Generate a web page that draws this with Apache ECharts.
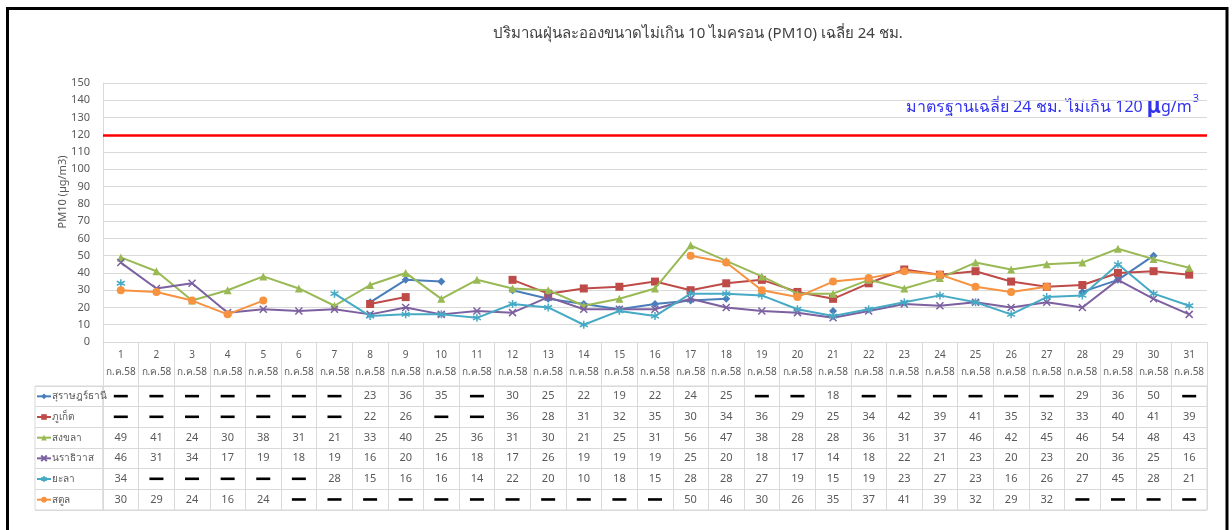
<!DOCTYPE html>
<html>
<head>
<meta charset="utf-8">
<script src="https://cdn.jsdelivr.net/npm/echarts@6/dist/echarts.min.js"></script>
<style>
html,body{margin:0;padding:0;background:#fff;}
#chart{width:1232px;height:530px;}
</style>
</head>
<body>
<div id="chart"></div>
<script>
// ---------- DATA ----------
const days = ['1','2','3','4','5','6','7','8','9','10','11','12','13','14','15','16','17','18','19','20','21','22','23','24','25','26','27','28','29','30','31'];
const monthLabel = 'ก.ค.58';
const stations = ['สุราษฎร์ธานี','ภูเก็ต','สงขลา','นราธิวาส','ยะลา','สตูล'];
const surat = [null,null,null,null,null,null,null,23,36,35,null,30,25,22,19,22,24,25,null,null,18,null,null,null,null,null,null,29,36,50,null];
const phuket = [null,null,null,null,null,null,null,22,26,null,null,36,28,31,32,35,30,34,36,29,25,34,42,39,41,35,32,33,40,41,39];
const songkhla = [49,41,24,30,38,31,21,33,40,25,36,31,30,21,25,31,56,47,38,28,28,36,31,37,46,42,45,46,54,48,43];
const narathiwat = [46,31,34,17,19,18,19,16,20,16,18,17,26,19,19,19,25,20,18,17,14,18,22,21,23,20,23,20,36,25,16];
const yala = [34,null,null,null,null,null,28,15,16,16,14,22,20,10,18,15,28,28,27,19,15,19,23,27,23,16,26,27,45,28,21];
const satun = [30,29,24,16,24,null,null,null,null,null,null,null,null,null,null,null,50,46,30,26,35,37,41,39,32,29,32,null,null,null,null];
const standardValue = 120;
const yTicks = {min: 0, max: 150, interval: 10};

const titleText = 'ปริมาณฝุ่นละอองขนาดไม่เกิน 10 ไมครอน (PM10) เฉลี่ย 24 ชม.';
const yName = 'PM10 (µg/m3)';

// ---------- STYLE ----------
const colors = ['#4A7EBB','#BE4B48','#98B954','#7D60A0','#46AAC5','#F69240'];
const symbols = ['diamond','rect','triangle','path://M0,0L10,10M10,0L0,10','path://M5,0L5,10M0,2.5L10,7.5M0,7.5L10,2.5','circle'];
const symbolSizes = [8,8,8,7,8,8];
const strokeSymbol = [false,false,false,true,true,false];
const rows = [surat, phuket, songkhla, narathiwat, yala, satun];
const FONT = '"Noto Sans", "DejaVu Sans", sans-serif';
const GRID_LINE = '#d9d9d9';
const TXT = '#595959';

const PLOT = {left: 103, right: 25, top: 83, bottom: 188};
const TABLE = {top: 386, height: 124};
const rowH = TABLE.height / rows.length;

const chart = echarts.init(document.getElementById('chart'), null, {renderer: 'canvas'});

const lineSeries = stations.map((name, k) => ({
  name: name,
  type: 'line',
  xAxisIndex: 0, yAxisIndex: 0,
  data: rows[k],
  symbol: symbols[k],
  symbolSize: symbolSizes[k],
  showSymbol: true,
  showAllSymbol: true,
  connectNulls: false,
  lineStyle: {width: 2, color: colors[k]},
  itemStyle: strokeSymbol[k] ? {color: colors[k], borderColor: colors[k], borderWidth: 1.5} : {color: colors[k]},
  emphasis: {disabled: true},
  z: 3 + k,
  markLine: k === 0 ? {
    silent: true,
    symbol: ['none','none'],
    label: {show: false},
    lineStyle: {color: '#FF0000', width: 2.5, type: 'solid'},
    data: [{yAxis: standardValue}]
  } : undefined
}));

const tableData = [];
rows.forEach((arr, r) => arr.forEach((v, i) => tableData.push([i, r, v == null ? -1 : v])));

const tableSeries = {
  name: '__table',
  type: 'custom',
  xAxisIndex: 1, yAxisIndex: 1,
  data: tableData,
  silent: true,
  renderItem: function (params, api) {
    const i = api.value(0), r = api.value(1), v = api.value(2);
    const p = api.coord([i, r]);
    if (v < 0) {
      return {type: 'rect', shape: {x: p[0] - 7, y: p[1] - 1.5, width: 14, height: 2.6}, style: {fill: '#000'}};
    }
    return {type: 'text', x: p[0], y: p[1], style: {text: String(v), align: 'center', verticalAlign: 'middle', fontSize: 11, fontFamily: FONT, fill: TXT}};
  }
};

const legends = stations.map((name, k) => ({
  data: [name],
  left: 36,
  top: TABLE.top + rowH * k + rowH / 2 - 7,
  padding: 0,
  itemWidth: 14,
  itemHeight: 7,
  itemGap: 2,
  selectedMode: false,
  textStyle: {fontSize: 10, color: TXT, fontFamily: FONT, lineHeight: 14, padding: [0,0,0,-4]}
}));

const option = {
  animation: false,
  backgroundColor: '#fff',
  textStyle: {fontFamily: FONT},
  title: {
    text: titleText, left: 698, top: 26, textAlign: 'center', padding: 0,
    textStyle: {fontSize: 15, fontWeight: 'normal', color: '#404040', fontFamily: FONT}
  },
  legend: legends,
  grid: [
    {left: PLOT.left, right: PLOT.right, top: PLOT.top, bottom: PLOT.bottom, containLabel: false},
    {left: PLOT.left, right: PLOT.right, top: TABLE.top, height: TABLE.height, show: true, borderColor: GRID_LINE, borderWidth: 1, backgroundColor: 'transparent'},
    {left: 35, width: 68, top: TABLE.top, height: TABLE.height, show: true, borderColor: GRID_LINE, borderWidth: 1, backgroundColor: 'transparent'}
  ],
  xAxis: [
    {
      type: 'category', gridIndex: 0, data: days, boundaryGap: true,
      axisLine: {show: true, lineStyle: {color: GRID_LINE}},
      axisTick: {show: true, interval: 0, length: 44, lineStyle: {color: GRID_LINE}},
      axisLabel: {interval: 0, fontSize: 10, color: TXT, lineHeight: 17, margin: 5, fontFamily: FONT,
        formatter: v => v + '\n' + monthLabel}
    },
    {
      type: 'category', gridIndex: 1, data: days, boundaryGap: true,
      axisLine: {show: false}, axisTick: {show: false}, axisLabel: {show: false},
      splitLine: {show: true, interval: 0, lineStyle: {color: GRID_LINE}}
    },
    {type: 'value', gridIndex: 2, show: false}
  ],
  yAxis: [
    {
      type: 'value', gridIndex: 0, min: yTicks.min, max: yTicks.max, interval: yTicks.interval,
      axisLine: {show: true, lineStyle: {color: GRID_LINE}},
      axisTick: {show: false},
      axisLabel: {fontSize: 11, color: TXT, margin: 13, fontFamily: FONT},
      splitLine: {show: true, lineStyle: {color: GRID_LINE}}
    },
    {
      type: 'category', gridIndex: 1, data: stations, inverse: true,
      axisLine: {show: false}, axisTick: {show: false}, axisLabel: {show: false},
      splitLine: {show: true, interval: 0, lineStyle: {color: GRID_LINE}}
    },
    {
      type: 'category', gridIndex: 2, data: stations, inverse: true,
      axisLine: {show: false}, axisTick: {show: false}, axisLabel: {show: false},
      splitLine: {show: true, interval: 0, lineStyle: {color: GRID_LINE}}
    }
  ],
  graphic: [
    {type: 'rect', silent: true, z: 100, shape: {x: 7.5, y: 8.5, width: 1219.5, height: 600},
      style: {fill: 'none', stroke: '#000', lineWidth: 3}},
    {type: 'text', silent: true, x: 63, y: 192, rotation: Math.PI / 2,
      style: {text: yName, align: 'center', verticalAlign: 'middle', fontSize: 11, fill: TXT, fontFamily: FONT}},
    {type: 'text', silent: true, x: 1199, y: 107,
      style: {
        text: '{a|มาตรฐานเฉลี่ย 24 ชม. ไม่เกิน 120 }{mu|μ}{a|g/m}{sup|3}',
        align: 'right', verticalAlign: 'middle',
        rich: {
          a: {fontSize: 16, fill: '#3333EE', fontFamily: FONT},
          mu: {fontSize: 21, fontWeight: 'bold', fill: '#3333EE', fontFamily: FONT},
          sup: {fontSize: 11, fill: '#3333EE', fontFamily: FONT, verticalAlign: 'top', padding: [0, 0, 16, 1]}
        }
      }}
  ],
  series: lineSeries.concat([tableSeries])
};

chart.setOption(option);
</script>
</body>
</html>
